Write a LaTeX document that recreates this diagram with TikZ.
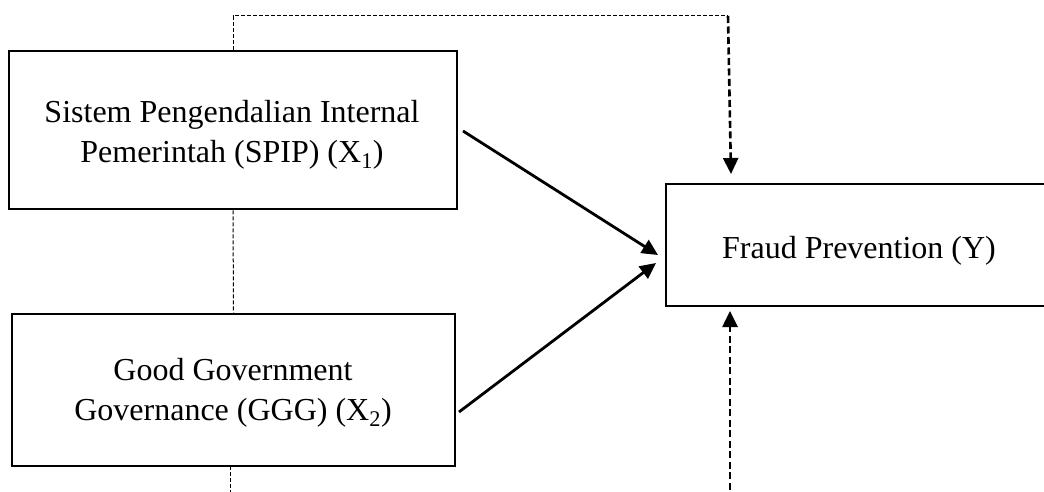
\documentclass[tikz,border=0pt]{standalone}
\usepackage{fontspec}
\setmainfont{Liberation Serif}
\usetikzlibrary{arrows.meta}
\begin{document}
\begin{tikzpicture}[x=1pt,y=-1pt,
  box/.style={draw, line width=2.6pt, rectangle, inner sep=0pt},
  lbl/.style={align=center, font=\fontsize{32}{40}\selectfont, inner sep=0pt},
  thindash/.style={line width=1pt, dash pattern=on 4pt off 2pt},
  thickdash/.style={line width=2.6pt, dash pattern=on 7pt off 3.5pt},
  solidarrow/.style={line width=2.8pt},
  tip/.style={-{Triangle[length=16pt 0, width=15pt 0]}},
  ]
\clip (0,0) rectangle (1044,492);
\fill[white] (0,0) rectangle (1044,492);
% boxes
\node[box, minimum width=448pt, minimum height=158pt] (b1) at (233,130) {};
\node[box, minimum width=443pt, minimum height=152pt] (b2) at (233.5,390) {};
\node[box, minimum width=386pt, minimum height=122pt] (y) at (859,245) {};
% texts
\node[lbl] (t1) at (232,135) {Sistem Pengendalian Internal\\Pemerintah (SPIP) (X\textsubscript{1})};
\node[lbl] (t2) at (233,393) {Good Government\\Governance (GGG) (X\textsubscript{2})};
\node[lbl] (t3) at (859,251) {Fraud Prevention (Y)};
% coordinates
\coordinate (c1) at (233,16);
\coordinate (c2) at (728,16);
\coordinate (ytop) at (731,174);
\coordinate (ybot) at (730,311);
\coordinate (bstart) at (730,500);
\coordinate (b2down) at (230,466);
\coordinate (b2end) at (230,495);
\coordinate (a1s) at (463,131);
\coordinate (a1e) at (658,255);
\coordinate (a2s) at (459,412);
\coordinate (a2e) at (656,263);
% dashed connectors
\draw[thindash] (b1.north) -- (c1) -- (c2);
\draw[thickdash, tip] (c2) -- (ytop);
\draw[thindash] (b1.south) -- (b2.north);
\draw[thindash] (b2down) -- (b2end);
\draw[thickdash, tip] (bstart) -- (ybot);
% solid arrows
\draw[solidarrow, tip] (a1s) -- (a1e);
\draw[solidarrow, tip] (a2s) -- (a2e);
\end{tikzpicture}
\end{document}
